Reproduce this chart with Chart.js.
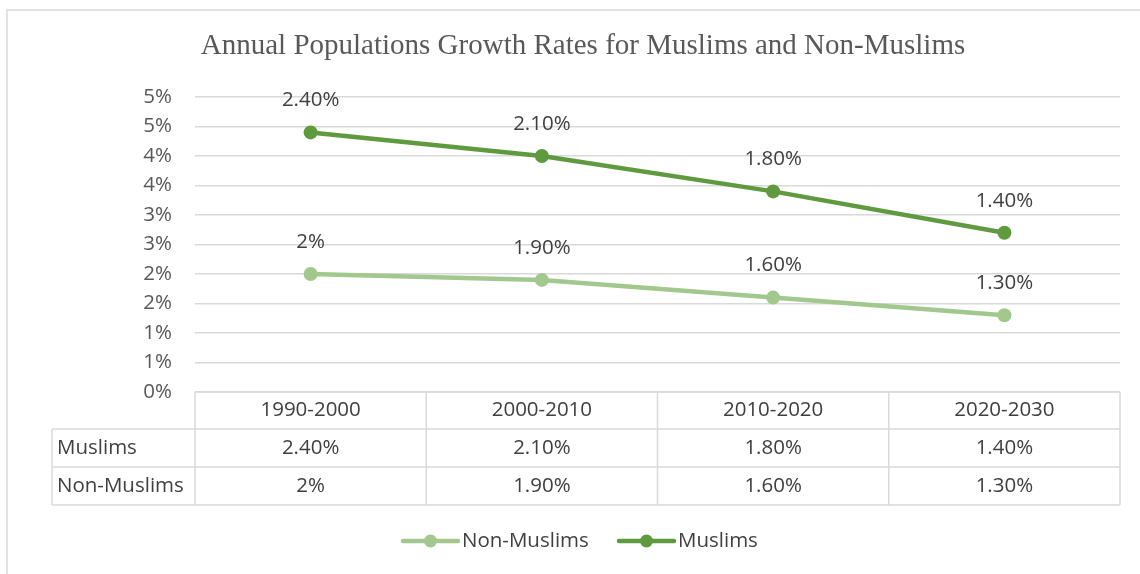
<!DOCTYPE html>
<html>
<head>
<meta charset="utf-8">
<script src="https://cdn.jsdelivr.net/npm/chart.js@4"></script>
<style>
html,body{margin:0;padding:0;background:#fff;}
#wrap{position:relative;width:1140px;height:574px;}
</style>
</head>
<body>
<div id="wrap"><canvas id="c" width="1140" height="574"></canvas></div>
<script>
const categories = ["1990-2000", "2000-2010", "2010-2020", "2020-2030"];
const nonMuslims = [2, 1.9, 1.6, 1.3];
const muslims = [2.4, 2.1, 1.8, 1.4];
const nonMuslimsLabels = ["2%", "1.90%", "1.60%", "1.30%"];
const muslimsLabels = ["2.40%", "2.10%", "1.80%", "1.40%"];
const titleText = "Annual Populations Growth Rates for Muslims and Non-Muslims";

const DARK = "#5f9a3f";
const LIGHT = "#a3c88d";
const TXT = "#404040";
const AX = "#595959";
const GRID = "#d9d9d9";
const FONT = "'Open Sans', 'Noto Sans', sans-serif";
const FS = 20.5;

const extras = {
  id: "extras",
  beforeDraw(chart) {
    const ctx = chart.ctx;
    ctx.save();
    ctx.fillStyle = "#fff";
    ctx.fillRect(0, 0, chart.width, chart.height);
    ctx.strokeStyle = GRID;
    ctx.lineWidth = 1.5;
    ctx.beginPath();
    ctx.moveTo(7, 574);
    ctx.lineTo(7, 10);
    ctx.lineTo(1140, 10);
    ctx.stroke();
    ctx.fillStyle = AX;
    ctx.font = "29px 'Liberation Serif', serif";
    ctx.textAlign = "center";
    ctx.textBaseline = "middle";
    ctx.fillText(titleText, 583, 46);
    ctx.restore();
  },
  afterDraw(chart) {
    const ctx = chart.ctx;
    const x = chart.scales.x;
    const ca = chart.chartArea;
    ctx.save();
    const rows = [ca.bottom, 429, 467, 505];
    const colEdges = [ca.left];
    for (let i = 0; i < categories.length; i++) {
      colEdges.push(ca.left + (ca.right - ca.left) * (i + 1) / categories.length);
    }
    const leftX = 52;
    ctx.strokeStyle = GRID;
    ctx.lineWidth = 1.5;
    ctx.beginPath();
    ctx.moveTo(ca.left, rows[0]); ctx.lineTo(ca.right, rows[0]);
    for (let r = 1; r < rows.length; r++) { ctx.moveTo(leftX, rows[r]); ctx.lineTo(ca.right, rows[r]); }
    ctx.moveTo(leftX, rows[1]); ctx.lineTo(leftX, rows[3]);
    colEdges.forEach(cx => { ctx.moveTo(cx, rows[0]); ctx.lineTo(cx, rows[3]); });
    ctx.stroke();
    ctx.fillStyle = TXT;
    ctx.font = FS + "px " + FONT;
    ctx.textBaseline = "middle";
    ctx.textAlign = "center";
    categories.forEach((c, i) => {
      const cx = x.getPixelForValue(i);
      ctx.fillText(c, cx, (rows[0] + rows[1]) / 2);
      ctx.fillText(muslimsLabels[i], cx, (rows[1] + rows[2]) / 2);
      ctx.fillText(nonMuslimsLabels[i], cx, (rows[2] + rows[3]) / 2);
    });
    ctx.textAlign = "left";
    ctx.fillText("Muslims", 57, (rows[1] + rows[2]) / 2);
    ctx.fillText("Non-Muslims", 57, (rows[2] + rows[3]) / 2);

    ctx.textAlign = "center";
    chart.data.datasets.forEach((ds, di) => {
      const meta = chart.getDatasetMeta(di);
      meta.data.forEach((pt, i) => {
        ctx.fillText(ds.labelsText[i], pt.x, pt.y - 32);
      });
    });

    const legendItems = [
      { label: "Non-Muslims", color: LIGHT, x0: 403 },
      { label: "Muslims", color: DARK, x0: 619 }
    ];
    const ly = 541;
    legendItems.forEach(it => {
      ctx.strokeStyle = it.color;
      ctx.lineWidth = 4.5;
      ctx.lineCap = "round";
      ctx.beginPath();
      ctx.moveTo(it.x0, ly); ctx.lineTo(it.x0 + 55, ly);
      ctx.stroke();
      ctx.fillStyle = it.color;
      ctx.beginPath();
      ctx.arc(it.x0 + 27.5, ly, 6.5, 0, Math.PI * 2);
      ctx.fill();
      ctx.fillStyle = TXT;
      ctx.textAlign = "left";
      ctx.fillText(it.label, it.x0 + 59, ly);
    });
    ctx.restore();
  }
};

new Chart(document.getElementById("c"), {
  type: "line",
  data: {
    labels: categories,
    datasets: [
      {
        label: "Non-Muslims",
        data: nonMuslims,
        labelsText: nonMuslimsLabels,
        borderColor: LIGHT,
        backgroundColor: LIGHT,
        borderWidth: 4.5,
        pointRadius: 7,
        pointHoverRadius: 7,
        pointBackgroundColor: LIGHT,
        pointBorderWidth: 0,
        fill: false,
        tension: 0
      },
      {
        label: "Muslims",
        data: muslims,
        labelsText: muslimsLabels,
        borderColor: DARK,
        backgroundColor: DARK,
        borderWidth: 4.5,
        pointRadius: 7,
        pointHoverRadius: 7,
        pointBackgroundColor: DARK,
        pointBorderWidth: 0,
        fill: false,
        tension: 0
      }
    ]
  },
  options: {
    responsive: false,
    animation: false,
    events: [],
    layout: { padding: { left: 0, right: 20, top: 97, bottom: 182 } },
    plugins: { legend: { display: false }, title: { display: false }, tooltip: { enabled: false } },
    scales: {
      x: { type: "category", offset: true, display: false },
      y: {
        stacked: true,
        min: 0,
        max: 5,
        border: { display: false },
        grid: { color: GRID, lineWidth: 1.5, drawTicks: false },
        ticks: {
          stepSize: 0.5,
          color: AX,
          font: { family: "'Open Sans', 'Noto Sans', sans-serif", size: FS },
          padding: 23,
          callback: v => Math.round(v) + "%"
        },
        afterFit: s => { s.width = 195; }
      }
    }
  },
  plugins: [extras]
});
</script>
</body>
</html>
